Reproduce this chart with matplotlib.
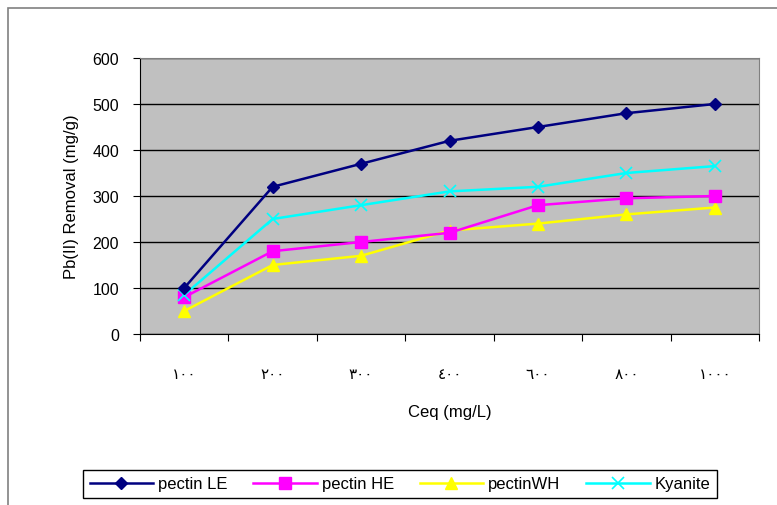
import numpy as np
import matplotlib.pyplot as plt
from matplotlib.patches import Rectangle

plt.rcParams['font.family'] = ['Liberation Sans', 'DejaVu Sans']

# concentration categories (Arabic-Indic digits) and removal for each sorbent
ceq_labels = ['١٠٠', '٢٠٠', '٣٠٠', '٤٠٠', '٦٠٠', '٨٠٠', '١٠٠٠']
pectin_le = [100, 320, 370, 420, 450, 480, 500]
pectin_he = [80, 180, 200, 220, 280, 295, 300]
pectin_wh = [50, 150, 170, 225, 240, 260, 275]
kyanite = [85, 250, 280, 310, 320, 350, 365]

W, H = 777, 506
fig = plt.figure(figsize=(W / 100, H / 100), dpi=100)

# chart frame, runs off the right and bottom edges
fig.patches.append(Rectangle((8 / W, -0.05), 1.1, 1 - 9 / H + 0.05,
                             transform=fig.transFigure, fill=False,
                             edgecolor='#808080', lw=1.2))

ax = fig.add_axes([140 / W, 1 - 335 / H, (759 - 140) / W, (335 - 59) / H])
ax.set_facecolor('#C0C0C0')

x = np.arange(len(ceq_labels))
ax.plot(x, pectin_le, color='#000080', marker='D', ms=6.5, lw=1.8, label='pectin LE', zorder=5)
ax.plot(x, pectin_he, color='#FF00FF', marker='s', ms=8.5, lw=1.8, label='pectin HE', zorder=4)
ax.plot(x, pectin_wh, color='#FFFF00', marker='^', ms=9, lw=1.8, label='pectinWH', zorder=3)
ax.plot(x, kyanite, color='#00FFFF', marker='x', ms=9, mew=1.2, lw=1.8, label='Kyanite', zorder=4)

ax.set_xlim(-0.5, len(ceq_labels) - 0.5)
ax.set_ylim(0, 600)
ax.set_yticks(range(0, 601, 100))
ax.yaxis.grid(True, color='black', lw=1)
ax.set_axisbelow(True)

# category ticks sit between the groups, labels in the middle
ax.set_xticks(np.arange(-0.5, len(ceq_labels)), minor=False)
ax.set_xticklabels([])
ax.set_xticks(x, minor=True)
ax.set_xticklabels(ceq_labels, minor=True, fontsize=11)
ax.tick_params(axis='x', which='minor', length=0, pad=24)
ax.tick_params(axis='x', which='major', length=5, direction='out', color='black')
ax.tick_params(axis='y', length=5, direction='out', labelsize=11.5, pad=10)

for side in ['top', 'right']:
    ax.spines[side].set_color('#808080')
for side in ['left', 'bottom']:
    ax.spines[side].set_color('black')

ax.set_ylabel('Pb(II) Removal (mg/g)', fontsize=12, labelpad=10)
ax.set_xlabel('Ceq (mg/L)', fontsize=12, labelpad=16)

leg = fig.legend(loc='lower left', ncol=4, mode='expand',
                 bbox_to_anchor=(83 / W, 1 - 499 / H, (717 - 83) / W, 43 / H),
                 fancybox=False, edgecolor='black', framealpha=1,
                 fontsize=12, handlelength=3.8, handletextpad=0.3,
                 borderaxespad=0)
leg.get_frame().set_linewidth(1)

fig.savefig('out.png', dpi=100)
